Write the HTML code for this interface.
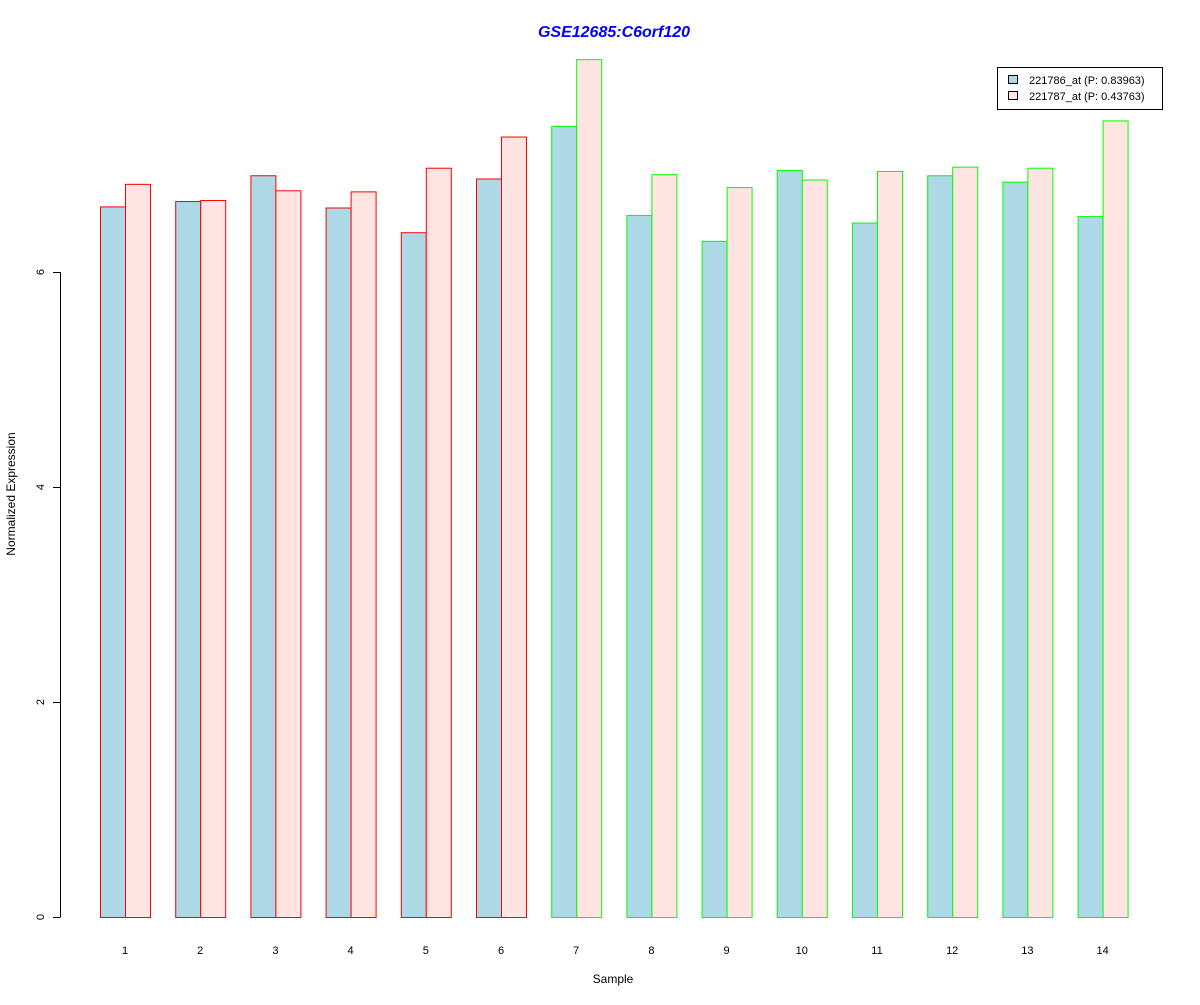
<!DOCTYPE html>
<html><head><meta charset="utf-8"><style>
body{margin:0;background:#fff;}
svg text{font-family:"Liberation Sans",sans-serif;}
</style></head><body>
<svg id="chart" width="1200" height="1000" xmlns="http://www.w3.org/2000/svg">
<rect width="1200" height="1000" fill="#fff"/>
<text x="614" y="37" text-anchor="middle" font-size="16" font-weight="bold" font-style="italic" fill="#0000ff">GSE12685:C6orf120</text>
<text x="613" y="983" text-anchor="middle" font-size="12">Sample</text>
<text transform="translate(15,494) rotate(-90)" text-anchor="middle" font-size="12">Normalized Expression</text>
<g id="yaxis"></g>
<g id="bars"></g>
<g id="xlabels"></g>
<g>
<rect x="997.5" y="67.5" width="165" height="42" fill="#fff" stroke="#000"/>
<rect x="1008.5" y="75.5" width="9" height="8" fill="#add8e6" stroke="#000"/>
<text x="1029" y="84" font-size="11">221786_at (P: 0.83963)</text>
<rect x="1008.5" y="91.5" width="9" height="8" fill="#ffe4e1" stroke="#000"/>
<text x="1029" y="100" font-size="11">221787_at (P: 0.43763)</text>
</g>
</svg>
<script>
const categories = ["1","2","3","4","5","6","7","8","9","10","11","12","13","14"];
const series1 = [6.61,6.66,6.90,6.60,6.37,6.87,7.36,6.53,6.29,6.95,6.46,6.90,6.84,6.52];
const series2 = [6.82,6.67,6.76,6.75,6.97,7.26,7.98,6.91,6.79,6.86,6.94,6.98,6.97,7.41];
const groupColors = ["#ff0000","#ff0000","#ff0000","#ff0000","#ff0000","#ff0000","#00ff00","#00ff00","#00ff00","#00ff00","#00ff00","#00ff00","#00ff00","#00ff00"];
const yTicks = [0,2,4,6];
const NS="http://www.w3.org/2000/svg";
function y(v){return 917 - v*107.5;}
function x(i){return 100 + i*75.2;}
const bars=document.getElementById('bars');
function mk(tag,attrs,parent){const e=document.createElementNS(NS,tag);for(const k in attrs)e.setAttribute(k,attrs[k]);parent.appendChild(e);return e;}
categories.forEach((c,i)=>{
  const b1=mk('rect',{x:x(i)+0.5,y:y(series1[i])+0.5,width:25,height:917-y(series1[i]),fill:'#add8e6',stroke:groupColors[i]},bars);
  
  
  const b2=mk('rect',{x:x(i)+25.5,y:y(series2[i])+0.5,width:25,height:917-y(series2[i]),fill:'#ffe4e1',stroke:groupColors[i]},bars);
  
  
  const t=mk('text',{x:x(i)+25,y:954,'text-anchor':'middle','font-size':11},document.getElementById('xlabels'));
  t.textContent=c;
  
  
});
const ya=document.getElementById('yaxis');
mk('line',{x1:60.5,x2:60.5,y1:y(yTicks[0]),y2:y(yTicks[yTicks.length-1]),stroke:'#000'},ya);
yTicks.forEach(v=>{
  mk('line',{x1:53,x2:60.5,y1:y(v)+0.5,y2:y(v)+0.5,stroke:'#000'},ya);
  const t=mk('text',{transform:'translate(44,'+y(v)+') rotate(-90)','text-anchor':'middle','font-size':11},ya);
  t.textContent=v;
  
  
});
</script>
</body></html>
